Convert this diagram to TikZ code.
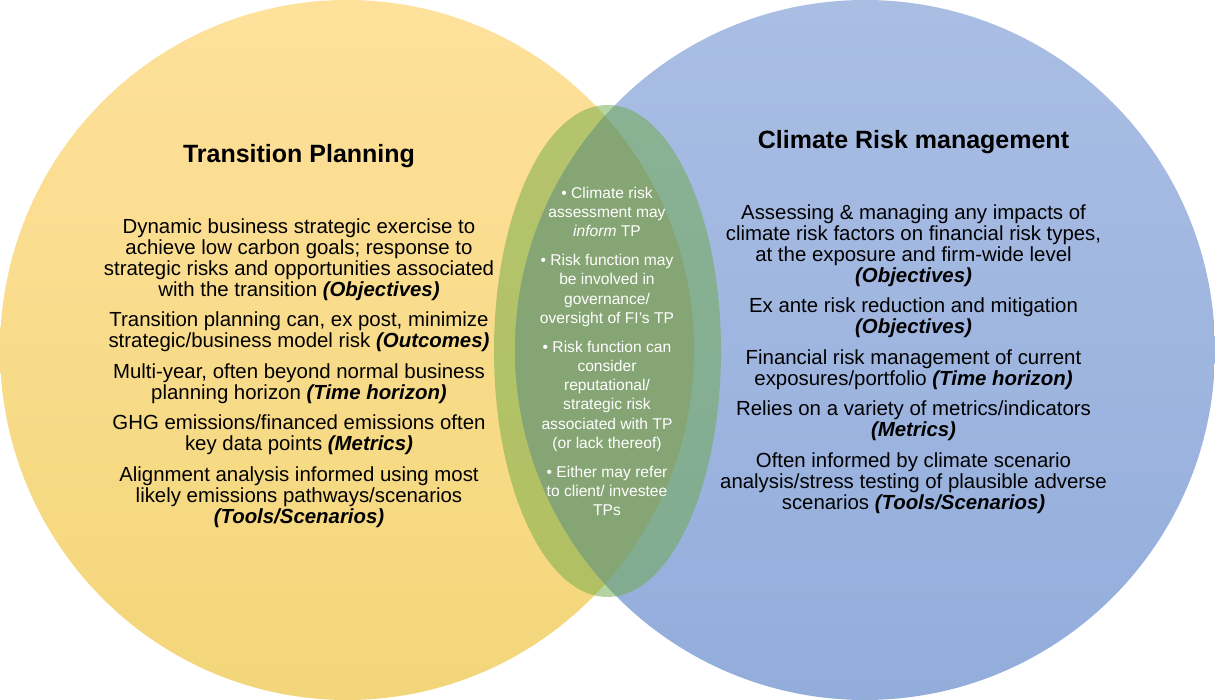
\documentclass[tikz,border=0pt]{standalone}
\usepackage{fontspec}
\setmainfont{Liberation Sans}
\usetikzlibrary{positioning}
\definecolor{tpTop}{RGB}{254,225,155}
\definecolor{tpBottom}{RGB}{243,214,121}
\definecolor{crmTop}{RGB}{170,190,228}
\definecolor{crmBottom}{RGB}{147,173,219}
\definecolor{overlapGray}{RGB}{160,161,163}
\definecolor{sharedGreen}{RGB}{110,170,70}
\newcommand{\aspect}[1]{\textbf{\textit{#1}}}
\begin{document}
\begin{tikzpicture}[x=0.5pt,y=0.5pt,node distance=24.7pt]
\tikzstyle{heading} = [inner sep=0pt, anchor=base, font=\fontsize{12.5}{15}\selectfont\bfseries]
\tikzstyle{bodytext} = [inner sep=0pt, align=center, font=\fontsize{10.2}{10.5}\selectfont]
\tikzstyle{sharedtext} = [inner sep=0pt, align=center, text=white, font=\fontsize{7.8}{9.6}\selectfont]
\useasboundingbox (0,0) rectangle (1215,700);
% the two circles and their overlap
\shade[top color=tpTop, bottom color=tpBottom] (347,350) ellipse [x radius=347, y radius=350];
\shade[top color=crmTop, bottom color=crmBottom] (865,350) circle [radius=350];
\begin{scope}
\clip (347,350) ellipse [x radius=347, y radius=350];
\fill[overlapGray] (865,350) circle [radius=350];
\end{scope}
\fill[sharedGreen, opacity=.5] (607.5,349) ellipse [x radius=113.5, y radius=246];
% titles
\node (tpTitle) [heading] at (299,537) {Transition Planning};
\node (crmTitle) [heading] at (913.5,551) {Climate Risk management};
% texts
\node (tpBody) [bodytext, below=of tpTitle] {Dynamic business strategic exercise to\\
achieve low carbon goals; response to\\
strategic risks and opportunities associated\\
with the transition \aspect{(Objectives)}\\[4.75pt]
Transition planning can, ex post, minimize\\
strategic/business model risk \aspect{(Outcomes)}\\[4.75pt]
Multi-year, often beyond normal business\\
planning horizon \aspect{(Time horizon)}\\[4.75pt]
GHG emissions/financed emissions often\\
key data points \aspect{(Metrics)}\\[4.75pt]
Alignment analysis informed using most\\
likely emissions pathways/scenarios\\
\aspect{(Tools/Scenarios)}};
\node (crmBody) [bodytext, below=of crmTitle] {Assessing \& managing any impacts of\\
climate risk factors on financial risk types,\\
at the exposure and firm-wide level\\
\aspect{(Objectives)}\\[4.75pt]
Ex ante risk reduction and mitigation\\
\aspect{(Objectives)}\\[4.75pt]
Financial risk management of current\\
exposures/portfolio \aspect{(Time horizon)}\\[4.75pt]
Relies on a variety of metrics/indicators\\
\aspect{(Metrics)}\\[4.75pt]
Often informed by climate scenario\\
analysis/stress testing of plausible adverse\\
scenarios \aspect{(Tools/Scenarios)}};
\node (sharedBody) [sharedtext] at (607,348.6) {• Climate risk\\
assessment may\\
\textit{inform} TP\\[4.95pt]
• Risk function may\\
be involved in\\
governance/\\
oversight of FI’s TP\\[4.95pt]
• Risk function can\\
consider\\
reputational/\\
strategic risk\\
associated with TP\\
(or lack thereof)\\[4.95pt]
• Either may refer\\
to client/ investee\\
TPs};
\end{tikzpicture}
\end{document}
